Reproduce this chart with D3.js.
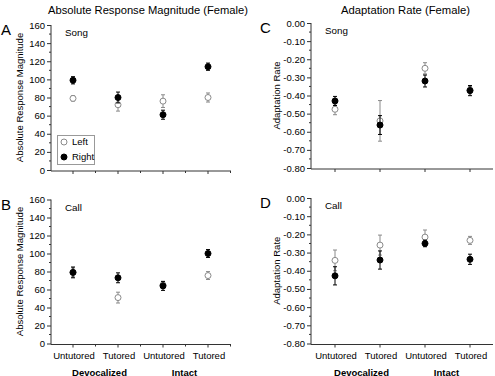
<!DOCTYPE html>
<html>
<head>
<meta charset="utf-8">
<script src="https://cdn.jsdelivr.net/npm/d3@7"></script>
<style>
  html, body { margin: 0; padding: 0; background: #fff; }
  svg { display: block; }
  svg text { font-family: "Liberation Sans", Arial, sans-serif; }
</style>
</head>
<body>
<svg id="chart" width="495" height="376"></svg>
<script>
// ---------- data ----------
const categories = ["Untutored", "Tutored", "Untutored", "Tutored"];
const groups = ["Devocalized", "Intact"];
const seriesNames = ["Left", "Right"];

const magTicks = [0, 20, 40, 60, 80, 100, 120, 140, 160];
const rateTicks = [0, -0.1, -0.2, -0.3, -0.4, -0.5, -0.6, -0.7, -0.8];

// Absolute response magnitude, Song
const songMagLeft = [79, 72, 76, 80];
const songMagLeftErr = [3, 7, 7, 5];
const songMagRight = [99, 80, 61, 114];
const songMagRightErr = [4, 6, 5, 4];
// Absolute response magnitude, Call
const callMagLeft = [79, 51, 65, 75.5];
const callMagLeftErr = [5, 6, 4, 4.4];
const callMagRight = [79, 73, 64, 100];
const callMagRightErr = [6, 5.5, 5, 4.4];
// Adaptation rate, Song
const songRateLeft = [-0.476, -0.54, -0.25, -0.37];
const songRateLeftErr = [0.03, 0.112, 0.031, 0.02];
const songRateRight = [-0.43, -0.563, -0.32, -0.373];
const songRateRightErr = [0.025, 0.052, 0.033, 0.028];
// Adaptation rate, Call
const callRateLeft = [-0.343, -0.259, -0.215, -0.233];
const callRateLeftErr = [0.057, 0.055, 0.039, 0.022];
const callRateRight = [-0.428, -0.341, -0.25, -0.337];
const callRateRightErr = [0.05, 0.05, 0.018, 0.028];

// ---------- drawing ----------
const svg = d3.select("#chart");
const FONT_TICK = "9.5px";
const GREY = "#8a8a8a";

function panel(opt) {
  const x = d3.scaleLinear().domain([0.5, 4.5]).range(opt.xRange);
  const y = d3.scaleLinear().domain(opt.yDomain).range(opt.yRange);
  const g = svg.append("g");
  const axX = opt.axisX;
  const bottom = opt.yRange[0] + 1;

  // y axis
  const yAxis = d3.axisLeft(y).tickValues(opt.yTicks).tickSize(4).tickSizeOuter(0)
    .tickPadding(2).tickFormat(opt.fmt);
  const ya = g.append("g").attr("transform", `translate(${axX},0)`).call(yAxis);
  ya.attr("font-family", null);
  ya.select(".domain").attr("d", `M0,${opt.yRange[1]}V${bottom}`);
  ya.selectAll("text").style("font-size", FONT_TICK).attr("fill", "#000");
  ya.selectAll("line,path").attr("stroke", "#333");
  // minor y ticks
  const minor = [];
  for (let i = 0; i < opt.yTicks.length - 1; i++) minor.push((opt.yTicks[i] + opt.yTicks[i + 1]) / 2);
  g.selectAll(".ymin").data(minor).enter().append("line")
    .attr("x1", axX - 2).attr("x2", axX).attr("y1", d => y(d)).attr("y2", d => y(d))
    .attr("stroke", "#333");

  // x axis
  g.append("line").attr("x1", axX).attr("x2", opt.xEnd).attr("y1", bottom).attr("y2", bottom)
    .attr("stroke", "#333");
  g.selectAll(".xt").data(d3.range(1, 5)).enter().append("line")
    .attr("x1", d => x(d)).attr("x2", d => x(d)).attr("y1", bottom).attr("y2", bottom + 3)
    .attr("stroke", "#333");
  if (opt.xMinor) {
    g.selectAll(".xm").data([1.5, 2.5, 3.5, 4.5]).enter().append("line")
      .attr("x1", d => x(d)).attr("x2", d => x(d)).attr("y1", bottom).attr("y2", bottom + 2)
      .attr("stroke", "#333");
  }
  if (opt.catLabels) {
    g.selectAll(".cl").data(categories).enter().append("text")
      .attr("x", (d, i) => x(i + 1) + 1).attr("y", bottom + 14)
      .attr("text-anchor", "middle").style("font-size", FONT_TICK).text(d => d);
    g.selectAll(".gl").data(groups).enter().append("text")
      .attr("x", (d, i) => (x(2 * i + 1) + x(2 * i + 2)) / 2 + (i === 0 ? 4 : -1))
      .attr("y", bottom + 31)
      .attr("text-anchor", "middle").style("font-size", FONT_TICK).style("font-weight", "bold")
      .text(d => d);
  }

  // y label
  g.append("text")
    .attr("transform", `translate(${opt.yLabelX},${(opt.yRange[0] + opt.yRange[1]) / 2}) rotate(-90)`)
    .attr("text-anchor", "middle").attr("dy", "0.35em").style("font-size", FONT_TICK)
    .text(opt.yLabel);

  // panel letter
  g.append("text").attr("x", opt.letterX).attr("y", opt.yRange[1] + 10)
    .style("font-size", "15px").text(opt.letter);

  // stimulus label
  g.append("text").attr("x", axX + 14).attr("y", opt.yRange[1] + 11)
    .style("font-size", "9.8px").text(opt.stim);

  // series
  const series = [
    { vals: opt.left, errs: opt.leftErr, color: GREY, fill: "#fff" },
    { vals: opt.right, errs: opt.rightErr, color: "#000", fill: "#000" }
  ];
  series.forEach(s => {
    const sg = g.append("g");
    const pts = s.vals.map((v, i) => ({ i: i + 1, v, e: s.errs[i] }));
    sg.selectAll(".eb").data(pts).enter().append("line")
      .attr("x1", d => x(d.i)).attr("x2", d => x(d.i))
      .attr("y1", d => y(d.v - d.e)).attr("y2", d => y(d.v + d.e))
      .attr("stroke", s.color).attr("stroke-width", 1);
    [-1, 1].forEach(sign => {
      sg.selectAll(".cap" + sign).data(pts).enter().append("line")
        .attr("x1", d => x(d.i) - 2).attr("x2", d => x(d.i) + 2)
        .attr("y1", d => y(d.v + sign * d.e)).attr("y2", d => y(d.v + sign * d.e))
        .attr("stroke", s.color).attr("stroke-width", 1);
    });
    sg.selectAll(".pt").data(pts).enter().append("circle")
      .attr("cx", d => x(d.i)).attr("cy", d => y(d.v)).attr("r", 3)
      .attr("fill", s.fill).attr("stroke", s.color).attr("stroke-width", 1);
  });
  return { x, y, g };
}

const magFmt = d => String(d);
const rateFmt = d => d.toFixed(2);

panel({
  xRange: [50.5, 230.5], axisX: 51, xEnd: 231, xMinor: true,
  yDomain: [0, 160], yRange: [170, 25], yTicks: magTicks, fmt: magFmt,
  yLabel: "Absolute Response Magnitude", yLabelX: 20, letter: "A", letterX: 1, stim: "Song",
  left: songMagLeft, leftErr: songMagLeftErr, right: songMagRight, rightErr: songMagRightErr,
  catLabels: false
});
panel({
  xRange: [50.5, 230.5], axisX: 51, xEnd: 231, xMinor: true,
  yDomain: [0, 160], yRange: [343.5, 199.5], yTicks: magTicks, fmt: magFmt,
  yLabel: "Absolute Response Magnitude", yLabelX: 20, letter: "B", letterX: 1, stim: "Call",
  left: callMagLeft, leftErr: callMagLeftErr, right: callMagRight, rightErr: callMagRightErr,
  catLabels: true
});
panel({
  xRange: [312.5, 492.5], axisX: 311, xEnd: 493, xMinor: false,
  yDomain: [-0.8, 0], yRange: [168, 23], yTicks: rateTicks, fmt: rateFmt,
  yLabel: "Adaptation Rate", yLabelX: 277, letter: "C", letterX: 260, stim: "Song",
  left: songRateLeft, leftErr: songRateLeftErr, right: songRateRight, rightErr: songRateRightErr,
  catLabels: false
});
panel({
  xRange: [312.5, 492.5], axisX: 311, xEnd: 493, xMinor: false,
  yDomain: [-0.8, 0], yRange: [343.5, 198], yTicks: rateTicks, fmt: rateFmt,
  yLabel: "Adaptation Rate", yLabelX: 277, letter: "D", letterX: 260, stim: "Call",
  left: callRateLeft, leftErr: callRateLeftErr, right: callRateRight, rightErr: callRateRightErr,
  catLabels: true
});

// titles
svg.append("text").attr("x", 48).attr("y", 14)
  .attr("textLength", 200).attr("lengthAdjust", "spacingAndGlyphs")
  .style("font-size", "11.2px").text("Absolute Response Magnitude (Female)");
svg.append("text").attr("x", 341).attr("y", 14)
  .attr("textLength", 129).attr("lengthAdjust", "spacingAndGlyphs")
  .style("font-size", "11.2px").text("Adaptation Rate (Female)");

// legend in panel A
const lg = svg.append("g");
lg.append("rect").attr("x", 57.5).attr("y", 135.5).attr("width", 37).attr("height", 29)
  .attr("fill", "#fff").attr("stroke", "#999");
const legendStyles = [{ fill: "#fff", stroke: GREY }, { fill: "#000", stroke: "#000" }];
lg.selectAll(".li").data(seriesNames).enter().append("circle")
  .attr("cx", 64).attr("cy", (d, i) => 142 + i * 15).attr("r", 3)
  .attr("fill", (d, i) => legendStyles[i].fill).attr("stroke", (d, i) => legendStyles[i].stroke);
lg.selectAll(".lt").data(seriesNames).enter().append("text")
  .attr("x", 72).attr("y", (d, i) => 142 + i * 15).attr("dy", "0.35em")
  .style("font-size", FONT_TICK).text(d => d);
</script>
</body>
</html>
